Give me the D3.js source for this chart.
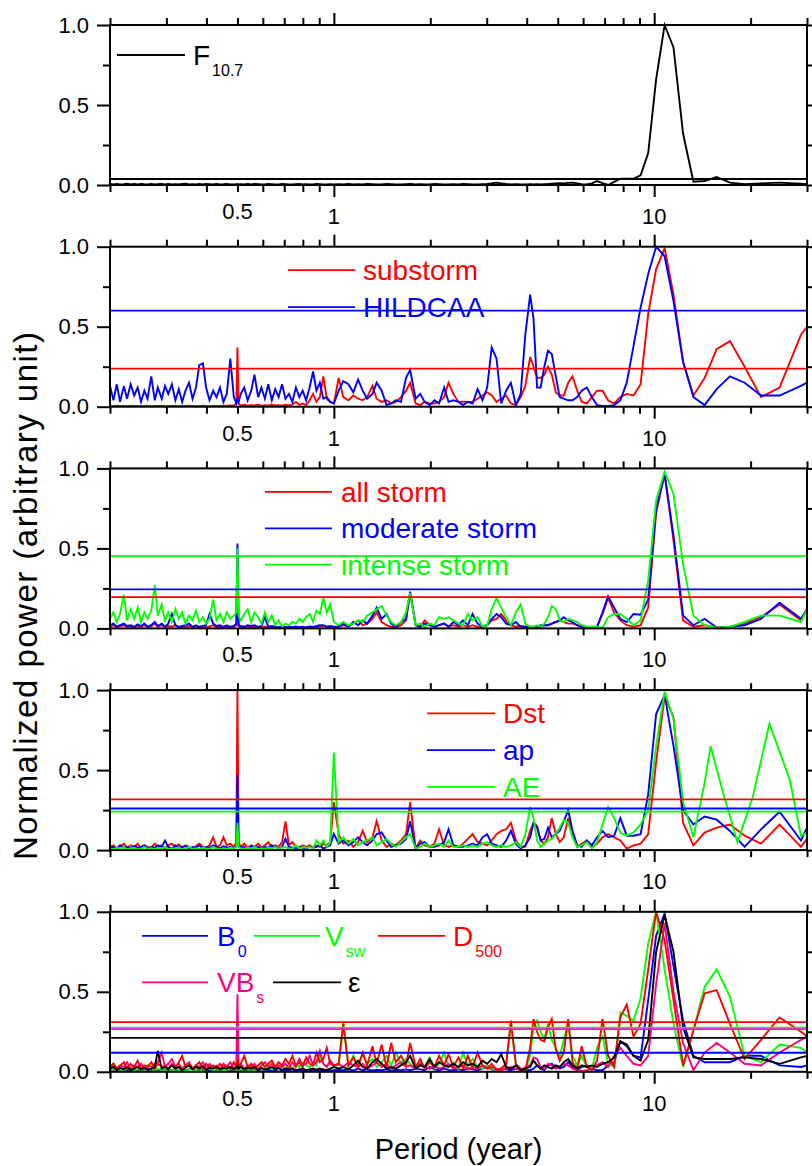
<!DOCTYPE html>
<html>
<head>
  <title>Normalized power spectra</title>
  <meta charset="utf-8">
  <script src="https://d3js.org/d3.v7.min.js"></script>
  <style>
    body { margin: 0; background: #fff; }
    svg text { font-family: "Liberation Sans", Arial, Helvetica, sans-serif; }
  </style>
</head>
<body>
<svg id="chart" width="812" height="1166"></svg>

<script>
// shared period grid (year), dense part first, then the coarse long-period part
var periods = [
  0.200,0.205,0.210,0.215,0.221,0.226,0.232,0.238,0.244,0.250,0.256,0.262,0.269,0.276,0.282,0.290,0.297,
  0.304,0.312,0.320,0.328,0.336,0.344,0.353,0.362,0.371,0.380,0.390,0.399,0.409,0.420,0.430,0.441,0.452,
  0.463,0.475,0.487,0.496,0.500,0.504,0.512,0.525,0.538,0.552,0.565,0.580,0.594,0.609,0.624,0.640,0.656,
  0.672,0.689,0.706,0.724,0.742,0.761,0.780,0.799,0.819,0.840,0.861,0.882,0.904,0.927,0.950,0.974,1.000,
  1.035,1.07,1.11,1.15,1.19,1.23,1.27,1.32,1.36,1.41,1.46,1.51,1.56,1.62,1.68,1.73,1.80,1.86,1.92,1.99,
  2.06,2.13,2.21,2.28,2.36,2.45,2.53,2.62,2.71,2.81,2.91,3.01,3.11,3.22,3.33,3.45,3.57,3.70,3.83,3.96,
  4.10,4.20,4.31,4.42,4.54,4.66,4.79,4.93,5.07,5.22,5.39,5.56,5.75,5.94,6.16,
  6.39,6.63,6.90,7.18,7.50,7.84,8.21,8.62,9.07,9.58,10.14,10.78,11.49,12.31,13.26,
  13.8,14.37,15.0,15.67,16.4,17.24,18.2,19.16,20.3,21.55,22.9,24.63,26.5,28.73,30.0
];

// panel 1
var f107 = [
  0.006,0.004,0.007,0.003,0.005,0.008,0.004,0.006,0.003,0.007,0.005,0.004,0.006,0.003,0.005,0.007,0.004,
  0.006,0.003,0.005,0.004,0.006,0.008,0.004,0.005,0.003,0.006,0.004,0.007,0.005,0.003,0.006,0.004,0.005,
  0.007,0.003,0.004,0.005,0.006,0.004,0.005,0.003,0.006,0.004,0.007,0.005,0.003,0.004,0.006,0.005,0.003,
  0.004,0.006,0.005,0.004,0.003,0.005,0.006,0.004,0.005,0.003,0.004,0.006,0.005,0.004,0.003,0.005,0.004,
  0.005,0.004,0.006,0.003,0.005,0.004,0.006,0.005,0.003,0.004,0.006,0.005,0.004,0.003,0.005,0.006,0.004,0.005,0.003,0.004,
  0.006,0.005,0.004,0.003,0.005,0.004,0.006,0.005,0.004,0.003,0.005,0.007,0.010,0.015,0.010,0.006,0.004,0.005,0.003,0.004,
  0.005,0.004,0.005,0.004,0.005,0.006,0.008,0.010,0.012,0.010,0.013,0.015,0.010,0.005,0.003,
  0.010,0.025,0.012,0.000,0.020,0.040,0.040,0.040,0.060,0.200,0.660,1.000,0.860,0.320,0.020,
  null,0.025,null,0.050,null,0.015,null,0.005,null,0.010,null,0.015,null,0.008,0.005
];

// panel 2
var substorm = [
  0.005,0.003,0.006,0.004,0.005,0.003,0.006,0.004,0.005,0.003,0.004,0.006,0.003,0.005,0.004,0.006,0.003,
  0.005,0.004,0.006,0.003,0.005,0.004,0.006,0.005,0.003,0.004,0.006,0.005,0.003,0.006,0.004,0.005,0.007,
  0.005,0.008,0.006,0.020,0.370,0.020,0.008,0.012,0.006,0.010,0.008,0.012,0.005,0.010,0.007,0.012,0.008,
  0.010,0.006,0.012,0.008,0.015,0.030,0.012,0.020,0.010,0.040,0.080,0.030,0.060,0.190,0.050,0.030,0.020,
  0.18,0.06,0.04,0.07,0.05,0.04,0.06,0.13,0.05,0.03,0.04,0.02,0.03,0.06,0.10,0.15,0.02,0.01,0.03,0.02,
  0.02,0.03,0.06,0.15,0.08,0.03,0.03,0.03,0.03,0.05,0.07,0.09,0.07,0.03,0.05,0.07,0.02,0.01,0.06,0.13,
  0.31,0.25,0.18,0.18,0.20,0.25,0.20,0.09,0.07,0.07,0.15,0.19,0.10,0.03,0.02,
  0.06,0.10,0.10,0.04,0.02,0.06,0.08,0.07,0.14,0.58,0.86,0.99,0.70,0.28,0.07,
  null,0.18,null,0.36,null,0.41,null,0.25,null,0.06,null,0.12,null,0.45,0.50
];
var hildcaa = [
  0.13,0.04,0.14,0.03,0.13,0.05,0.14,0.07,0.12,0.03,0.10,0.05,0.19,0.04,0.12,0.05,0.13,
  0.08,0.14,0.04,0.11,0.03,0.10,0.15,0.05,0.12,0.26,0.27,0.12,0.04,0.10,0.06,0.12,0.03,
  0.08,0.30,0.06,0.02,0.05,0.03,0.08,0.12,0.04,0.10,0.20,0.06,0.12,0.05,0.14,0.04,0.11,
  0.06,0.14,0.05,0.08,0.03,0.12,0.06,0.10,0.04,0.12,0.22,0.10,0.15,0.05,0.06,0.03,0.02,
  0.10,0.16,0.14,0.09,0.17,0.10,0.05,0.08,0.15,0.10,0.01,0.02,0.04,0.03,0.18,0.23,0.05,0.08,0.03,0.01,
  0.04,0.02,0.12,0.03,0.04,0.03,0.01,0.03,0.02,0.11,0.04,0.12,0.37,0.30,0.02,0.10,0.15,0.01,0.08,0.45,
  0.70,0.55,0.12,0.12,0.25,0.35,0.33,0.19,0.06,0.05,0.04,0.04,0.06,0.10,0.12,
  0.06,0.01,0.005,0.005,0.01,0.04,0.15,0.38,0.62,0.83,1.00,0.94,0.66,0.28,0.06,
  null,0.01,null,0.11,null,0.19,null,0.15,null,0.07,null,0.07,null,0.13,0.15
];

// panel 3
var allStorm = [
  0.010,0.020,0.008,0.015,0.020,0.010,0.012,0.006,0.015,0.010,0.020,0.008,0.012,0.030,0.010,0.020,0.008,
  0.015,0.010,0.020,0.006,0.012,0.010,0.015,0.008,0.012,0.005,0.010,0.006,0.012,0.020,0.008,0.010,0.006,
  0.012,0.008,0.010,0.020,0.450,0.015,0.010,0.006,0.012,0.008,0.010,0.005,0.008,0.012,0.006,0.008,0.005,
  0.006,0.004,0.008,0.005,0.007,0.004,0.006,0.008,0.005,0.010,0.006,0.008,0.012,0.015,0.010,0.008,0.006,
  0.01,0.02,0.015,0.03,0.05,0.02,0.03,0.06,0.10,0.04,0.02,0.01,0.005,0.02,0.05,0.22,0.02,0.01,0.05,0.02,
  0.01,0.02,0.03,0.01,0.02,0.01,0.02,0.01,0.02,0.01,0.005,0.02,0.05,0.06,0.09,0.05,0.02,0.01,0.015,0.01,
  0.005,0.005,0.01,0.01,0.02,0.02,0.03,0.04,0.05,0.04,0.03,0.03,0.02,0.01,0.005,
  0.005,0.01,0.09,0.19,0.10,0.05,0.02,0.01,0.02,0.13,0.72,0.97,0.55,0.05,0.01,
  null,0.02,null,0.005,null,0.01,null,0.03,null,0.07,null,0.15,null,0.05,0.12
];
var moderateStorm = [
  0.020,0.030,0.010,0.020,0.030,0.015,0.020,0.010,0.025,0.015,0.030,0.010,0.020,0.040,0.015,0.030,0.010,
  0.030,0.090,0.020,0.010,0.015,0.020,0.030,0.010,0.020,0.010,0.015,0.020,0.090,0.030,0.015,0.020,0.010,
  0.020,0.010,0.015,0.030,0.530,0.020,0.015,0.010,0.020,0.015,0.020,0.010,0.015,0.070,0.010,0.015,0.010,
  0.008,0.010,0.006,0.010,0.008,0.012,0.008,0.010,0.006,0.012,0.010,0.015,0.020,0.020,0.010,0.015,0.010,
  0.01,0.03,0.01,0.04,0.02,0.05,0.03,0.08,0.13,0.06,0.09,0.03,0.01,0.04,0.06,0.23,0.02,0.01,0.03,0.02,
  0.01,0.02,0.03,0.01,0.04,0.02,0.05,0.02,0.09,0.03,0.01,0.02,0.06,0.09,0.07,0.03,0.02,0.04,0.01,0.01,
  0.01,0.01,0.01,0.02,0.02,0.02,0.03,0.04,0.05,0.07,0.05,0.04,0.02,0.01,0.005,
  0.005,0.01,0.10,0.20,0.13,0.06,0.04,0.09,0.085,0.18,0.75,0.96,0.58,0.08,0.02,
  null,0.06,null,0.005,null,0.01,null,0.02,null,0.06,null,0.16,null,0.06,0.12
];
var intenseStorm = [
  0.06,0.10,0.04,0.09,0.21,0.05,0.12,0.06,0.13,0.04,0.10,0.06,0.11,0.27,0.08,0.15,0.05,
  0.10,0.04,0.12,0.06,0.10,0.03,0.08,0.05,0.11,0.04,0.07,0.03,0.06,0.18,0.05,0.09,0.04,
  0.10,0.06,0.08,0.10,0.50,0.08,0.05,0.09,0.12,0.04,0.10,0.07,0.03,0.10,0.04,0.08,0.02,
  0.05,0.01,0.03,0.02,0.04,0.03,0.06,0.04,0.07,0.09,0.04,0.11,0.09,0.19,0.10,0.15,0.04,
  0.02,0.04,0.02,0.03,0.05,0.04,0.08,0.10,0.12,0.14,0.08,0.04,0.02,0.04,0.10,0.22,0.02,0.03,0.01,0.03,
  0.02,0.07,0.06,0.07,0.05,0.03,0.02,0.09,0.05,0.07,0.01,0.02,0.12,0.19,0.13,0.07,0.02,0.10,0.15,0.03,
  0.01,0.01,0.02,0.01,0.03,0.07,0.14,0.12,0.05,0.04,0.06,0.05,0.04,0.02,0.01,
  0.01,0.01,0.005,0.07,0.09,0.09,0.06,0.02,0.05,0.30,0.80,0.98,0.84,0.40,0.08,
  null,0.02,null,0.005,null,0.01,null,0.04,null,0.08,null,0.08,null,0.04,0.12
];

// panel 4
var dst = [
  0.02,0.03,0.01,0.02,0.04,0.015,0.03,0.02,0.04,0.01,0.03,0.02,0.015,0.04,0.02,0.03,0.01,
  0.03,0.04,0.02,0.035,0.015,0.03,0.02,0.01,0.025,0.04,0.02,0.015,0.03,0.08,0.02,0.03,0.08,
  0.03,0.04,0.02,0.05,1.00,0.05,0.02,0.04,0.015,0.03,0.02,0.04,0.015,0.03,0.05,0.02,0.03,
  0.02,0.05,0.18,0.03,0.05,0.02,0.015,0.03,0.02,0.03,0.015,0.03,0.02,0.04,0.03,0.05,0.30,
  0.10,0.04,0.06,0.02,0.05,0.12,0.05,0.08,0.18,0.06,0.02,0.04,0.03,0.06,0.10,0.30,0.01,0.06,0.03,0.02,
  0.04,0.13,0.03,0.02,0.03,0.02,0.04,0.07,0.10,0.05,0.04,0.03,0.06,0.10,0.12,0.13,0.17,0.06,0.02,0.02,
  0.12,0.17,0.15,0.06,0.04,0.08,0.20,0.10,0.05,0.08,0.20,0.10,0.02,0.04,0.06,
  0.02,0.04,0.08,0.10,0.08,0.06,0.01,0.03,0.04,0.10,0.55,0.96,0.83,0.17,0.03,
  null,0.11,null,0.14,null,0.16,null,0.09,null,0.04,null,0.16,null,0.02,0.07
];
var ap = [
  0.015,0.02,0.01,0.03,0.015,0.02,0.01,0.025,0.015,0.02,0.03,0.01,0.02,0.015,0.03,0.02,0.06,
  0.02,0.01,0.03,0.015,0.02,0.025,0.01,0.02,0.015,0.03,0.01,0.02,0.015,0.03,0.02,0.01,0.025,
  0.015,0.02,0.01,0.03,0.47,0.03,0.015,0.02,0.01,0.025,0.015,0.02,0.01,0.02,0.015,0.03,0.02,
  0.01,0.02,0.07,0.02,0.015,0.01,0.02,0.015,0.01,0.02,0.015,0.02,0.03,0.01,0.02,0.03,0.10,
  0.04,0.06,0.03,0.05,0.08,0.05,0.03,0.06,0.10,0.11,0.06,0.02,0.03,0.04,0.07,0.18,0.01,0.04,0.05,0.02,
  0.02,0.03,0.05,0.13,0.03,0.02,0.02,0.03,0.04,0.03,0.08,0.10,0.04,0.03,0.02,0.06,0.12,0.04,0.01,0.03,
  0.08,0.17,0.14,0.06,0.07,0.14,0.08,0.10,0.12,0.18,0.25,0.12,0.03,0.02,0.06,
  0.03,0.08,0.12,0.08,0.09,0.20,0.09,0.09,0.10,0.35,0.85,0.97,0.65,0.25,0.16,
  null,0.21,null,0.19,null,0.12,null,0.02,null,0.13,null,0.24,null,0.06,0.14
];
var ae = [
  0.01,0.005,0.015,0.01,0.02,0.005,0.01,0.015,0.005,0.01,0.02,0.008,0.012,0.005,0.015,0.01,0.02,
  0.005,0.012,0.008,0.015,0.005,0.01,0.02,0.008,0.012,0.005,0.015,0.01,0.008,0.02,0.01,0.005,0.012,
  0.008,0.015,0.01,0.02,0.17,0.02,0.01,0.008,0.015,0.01,0.02,0.005,0.012,0.008,0.015,0.01,0.02,
  0.01,0.015,0.02,0.01,0.008,0.03,0.01,0.02,0.015,0.02,0.01,0.06,0.03,0.06,0.02,0.05,0.61,
  0.05,0.08,0.04,0.07,0.03,0.05,0.06,0.08,0.03,0.05,0.07,0.04,0.02,0.05,0.08,0.10,0.01,0.02,0.04,0.02,
  0.03,0.04,0.02,0.06,0.02,0.02,0.03,0.02,0.03,0.02,0.04,0.05,0.03,0.02,0.03,0.02,0.03,0.05,0.02,0.10,
  0.27,0.20,0.06,0.02,0.04,0.06,0.07,0.10,0.14,0.19,0.17,0.08,0.02,0.03,0.05,
  0.01,0.05,0.16,0.27,0.20,0.11,0.09,0.11,0.16,0.25,0.65,0.99,0.82,0.30,0.08,
  null,0.42,0.65,null,0.36,null,0.05,null,0.33,null,0.79,null,0.44,0.09,0.11
];

// panel 5
var b0 = [
  0.010,0.015,0.008,0.012,0.020,0.010,0.015,0.008,0.012,0.010,0.015,0.020,0.008,0.012,0.010,0.015,0.008,
  0.012,0.010,0.015,0.008,0.012,0.010,0.015,0.020,0.008,0.012,0.010,0.015,0.008,0.012,0.010,0.015,0.008,
  0.012,0.010,0.015,0.010,0.020,0.010,0.012,0.008,0.015,0.010,0.012,0.008,0.015,0.010,0.012,0.008,0.010,
  0.015,0.008,0.012,0.010,0.015,0.008,0.012,0.010,0.008,0.012,0.010,0.015,0.008,0.012,0.010,0.008,0.010,
  0.012,0.010,0.015,0.008,0.020,0.010,0.015,0.008,0.012,0.010,0.015,0.008,0.012,0.010,0.015,0.010,0.020,0.015,0.010,0.030,
  0.015,0.010,0.020,0.012,0.010,0.015,0.010,0.020,0.015,0.010,0.020,0.030,0.015,0.010,0.020,0.015,0.010,0.020,0.015,0.010,
  0.01,0.02,0.04,0.02,0.01,0.04,0.05,0.03,0.02,0.03,0.06,0.03,0.01,0.03,0.04,
  0.02,0.01,0.01,0.04,0.06,0.19,0.16,0.10,0.09,0.45,0.85,0.99,0.66,0.32,0.10,
  null,0.06,null,0.06,null,0.06,null,0.10,null,0.10,null,0.04,null,0.03,0.04
];
var vsw = [
  0.010,0.020,0.008,0.015,0.010,0.020,0.012,0.008,0.015,0.010,0.020,0.008,0.015,0.010,0.020,0.012,0.010,
  0.015,0.008,0.020,0.010,0.015,0.008,0.012,0.020,0.010,0.015,0.008,0.012,0.020,0.010,0.015,0.008,0.012,
  0.010,0.015,0.020,0.010,0.030,0.010,0.015,0.010,0.020,0.012,0.010,0.015,0.020,0.010,0.030,0.015,0.020,
  0.010,0.030,0.020,0.040,0.020,0.050,0.030,0.060,0.040,0.030,0.050,0.040,0.100,0.050,0.030,0.060,0.040,
  0.04,0.31,0.03,0.10,0.04,0.11,0.05,0.08,0.03,0.06,0.10,0.04,0.12,0.05,0.08,0.05,0.02,0.06,0.03,0.09,
  0.02,0.05,0.12,0.03,0.06,0.02,0.12,0.04,0.08,0.03,0.02,0.04,0.02,0.01,0.02,0.03,0.30,0.04,0.02,0.01,
  0.10,0.28,0.32,0.25,0.20,0.30,0.20,0.15,0.09,0.20,0.30,0.10,0.04,0.10,0.03,
  0.02,0.15,0.22,0.05,0.03,0.37,0.35,0.32,0.46,0.80,1.00,0.64,0.30,0.03,0.26,
  null,0.53,null,0.64,null,0.47,null,0.10,null,0.06,null,0.17,null,0.15,0.12
];
var d500 = [
  0.03,0.05,0.02,0.04,0.06,0.02,0.05,0.03,0.07,0.02,0.04,0.03,0.06,0.02,0.05,0.03,0.04,
  0.02,0.05,0.03,0.06,0.10,0.03,0.05,0.02,0.04,0.06,0.02,0.05,0.03,0.04,0.02,0.05,0.03,
  0.04,0.02,0.06,0.03,0.08,0.02,0.05,0.10,0.03,0.05,0.02,0.04,0.06,0.03,0.05,0.07,0.03,
  0.06,0.04,0.08,0.05,0.10,0.04,0.06,0.03,0.09,0.05,0.04,0.12,0.06,0.08,0.15,0.05,0.04,
  0.05,0.30,0.04,0.09,0.03,0.12,0.04,0.16,0.05,0.17,0.03,0.18,0.06,0.10,0.04,0.18,0.03,0.08,0.02,0.06,
  0.03,0.10,0.04,0.11,0.03,0.09,0.02,0.10,0.03,0.12,0.04,0.02,0.05,0.01,0.02,0.05,0.32,0.05,0.02,0.01,
  0.15,0.33,0.25,0.20,0.19,0.28,0.33,0.14,0.07,0.12,0.33,0.06,0.02,0.16,0.03,
  0.01,0.07,0.33,0.10,0.03,0.34,0.42,0.22,0.30,0.64,1.00,0.82,0.45,0.04,0.26,
  null,0.49,null,0.51,null,0.30,null,0.08,null,0.20,null,0.34,null,0.25,0.22
];
var vbs = [
  0.03,0.05,0.02,0.04,0.03,0.06,0.02,0.04,0.03,0.05,0.02,0.04,0.03,0.05,0.06,0.12,0.03,
  0.05,0.08,0.03,0.05,0.02,0.04,0.06,0.02,0.04,0.03,0.06,0.02,0.05,0.03,0.04,0.02,0.05,
  0.03,0.06,0.02,0.04,0.485,0.03,0.05,0.02,0.04,0.03,0.05,0.02,0.04,0.06,0.03,0.05,0.02,
  0.04,0.03,0.05,0.02,0.06,0.03,0.08,0.04,0.05,0.10,0.04,0.06,0.13,0.05,0.03,0.07,0.04,
  0.05,0.03,0.06,0.04,0.03,0.05,0.02,0.04,0.06,0.03,0.05,0.02,0.04,0.06,0.03,0.04,0.02,0.05,0.03,0.02,
  0.04,0.02,0.03,0.05,0.02,0.03,0.04,0.02,0.03,0.02,0.04,0.02,0.03,0.02,0.01,0.02,0.03,0.02,0.01,0.03,
  0.04,0.09,0.08,0.03,0.02,0.05,0.04,0.02,0.03,0.05,0.04,0.02,0.01,0.005,0.01,
  0.02,0.04,0.06,0.03,0.10,0.15,0.10,0.05,0.04,0.10,0.55,0.93,0.50,0.18,0.01,
  null,0.12,null,0.18,null,0.12,null,0.05,null,0.04,null,0.12,null,0.20,0.22
];
var epsilon = [
  0.02,0.03,0.01,0.025,0.015,0.03,0.01,0.02,0.03,0.015,0.025,0.01,0.02,0.03,0.13,0.02,0.03,
  0.015,0.04,0.02,0.03,0.01,0.025,0.04,0.015,0.03,0.02,0.035,0.01,0.025,0.02,0.03,0.015,0.025,
  0.02,0.03,0.015,0.025,0.04,0.02,0.03,0.015,0.025,0.02,0.03,0.01,0.025,0.015,0.02,0.03,0.015,
  0.025,0.01,0.02,0.015,0.02,0.01,0.015,0.02,0.01,0.015,0.02,0.01,0.02,0.015,0.01,0.02,0.03,
  0.02,0.03,0.015,0.04,0.07,0.03,0.02,0.06,0.08,0.05,0.02,0.03,0.02,0.04,0.06,0.10,0.02,0.04,0.03,0.08,
  0.03,0.06,0.04,0.03,0.05,0.03,0.06,0.04,0.05,0.03,0.07,0.05,0.08,0.06,0.11,0.03,0.02,0.04,0.01,0.02,
  0.03,0.07,0.04,0.02,0.04,0.03,0.02,0.04,0.03,0.06,0.08,0.04,0.02,0.04,0.03,
  0.04,0.03,0.05,0.06,0.09,0.19,0.17,0.10,0.07,0.20,0.75,0.98,0.75,0.28,0.09,
  null,0.08,null,0.08,null,0.08,null,0.09,null,0.08,null,0.05,null,0.09,0.10
];

// significance levels (horizontal lines)
var levelsF107 = [0.0375];
var levelsSubstorm = [0.2375, 0.6];
var levelsStorm = [0.196, 0.244, 0.452];
var levelsIndex = [0.317, 0.26, 0.24];
var levelsSolarWind = [0.119, 0.276, 0.31, 0.267, 0.212];   // B0, Vsw, D500, VBs, eps

var xMinorTicks = [0.2,0.3,0.4,0.5,0.6,0.7,0.8,0.9,2,3,4,5,6,7,8,9,20,30];
var xMajorTicks = [1, 10];
var xTickLabels = [0.5, 1, 10];
var yMajorTicks = [0, 0.5, 1];
var yMinorTicks = [0.25, 0.75];

var RED = "#ff0000", BLUE = "#0000ff", GREEN = "#00ff00", BLACK = "#000000", PINK = "#ff0080", MAGENTA = "#ff00ff";

var panels = [
  { series: [{v: f107, c: BLACK, name: "F", sub: "10.7"}],
    levels: levelsF107, levelColors: [BLACK] },
  { series: [{v: substorm, c: RED, name: "substorm"}, {v: hildcaa, c: BLUE, name: "HILDCAA"}],
    levels: levelsSubstorm, levelColors: [RED, BLUE] },
  { series: [{v: allStorm, c: RED, name: "all storm"}, {v: moderateStorm, c: BLUE, name: "moderate storm"},
             {v: intenseStorm, c: GREEN, name: "intense storm"}],
    levels: levelsStorm, levelColors: [RED, BLUE, GREEN] },
  { series: [{v: dst, c: RED, name: "Dst"}, {v: ap, c: BLUE, name: "ap"}, {v: ae, c: GREEN, name: "AE"}],
    levels: levelsIndex, levelColors: [RED, BLUE, GREEN] },
  { series: [{v: b0, c: BLUE, name: "B", sub: "0"}, {v: vsw, c: GREEN, name: "V", sub: "sw"},
             {v: vbs, c: PINK, name: "VB", sub: "s"}, {v: d500, c: RED, name: "D", sub: "500"},
             {v: epsilon, c: BLACK, name: "\u03b5"}],
    levels: levelsSolarWind, levelColors: [BLUE, GREEN, RED, MAGENTA, BLACK] }
];

var left = 110, right = 807, top0 = 25, panelH = 160, panelStep = 221.7;
var svg = d3.select("#chart");
var x = d3.scaleLog().domain([0.2, 30]).range([left, right]);

// legend placement per panel: line start/end, text x, line y offset from panel top
var legendLayout = [
  [{x0: 117, x1: 185, tx: 193, dy: 30}],
  [{x0: 288, x1: 355, tx: 363, dy: 23.4}, {x0: 288, x1: 355, tx: 363, dy: 60.5}],
  [{x0: 265, x1: 332, tx: 341, dy: 23.4}, {x0: 265, x1: 332, tx: 341, dy: 60}, {x0: 265, x1: 332, tx: 341, dy: 96.3}],
  [{x0: 427, x1: 495, tx: 503, dy: 23.3}, {x0: 427, x1: 495, tx: 503, dy: 60}, {x0: 427, x1: 495, tx: 503, dy: 96.7}],
  [{x0: 142, x1: 208, tx: 217, dy: 24}, {x0: 254, x1: 320, tx: 325, dy: 24},
   {x0: 142, x1: 208, tx: 217, dy: 70.6}, {x0: 378, x1: 445, tx: 453, dy: 24},
   {x0: 273, x1: 341, tx: 348, dy: 70.6}]
];

panels.forEach(function(p, i) {
  var top = top0 + i * panelStep, bottom = top + panelH;
  var y = d3.scaleLinear().domain([0, 1]).range([bottom, top]);
  var g = svg.append("g");

  var line = d3.line().x(function(d) { return x(d[0]); }).y(function(d) { return y(d[1]); });

  p.series.forEach(function(s) {
    if (s.v.length !== periods.length) console.error(s.name, s.v.length, periods.length);
    var pts = periods.map(function(t, j) { return [t, s.v[j]]; })
      .filter(function(d) { return d[1] != null; });
    g.append("path").datum(pts)
      .attr("d", line)
      .attr("fill", "none")
      .attr("stroke", s.c)
      .attr("stroke-width", 1.9);
  });

  p.levels.forEach(function(lv, k) {
    g.append("line")
      .attr("x1", left).attr("x2", right)
      .attr("y1", y(lv)).attr("y2", y(lv))
      .attr("stroke", p.levelColors[k])
      .attr("stroke-width", 1.8);
  });

  // legend
  p.series.forEach(function(s, k) {
    var L = legendLayout[i][k];
    var ly = top + L.dy;
    g.append("line").attr("x1", L.x0).attr("x2", L.x1).attr("y1", ly).attr("y2", ly)
      .attr("stroke", s.c).attr("stroke-width", 1.8);
    var t = g.append("text").attr("x", L.tx).attr("y", ly + 10)
      .attr("fill", s.c).attr("font-size", 28);
    t.append("tspan").text(s.name);
    if (s.sub) t.append("tspan").attr("dx", 2).attr("dy", 11).attr("font-size", 16).text(s.sub);
  });

  // frame
  g.append("rect").attr("x", left).attr("y", top).attr("width", right - left).attr("height", panelH)
    .attr("fill", "none").attr("stroke", "#000").attr("stroke-width", 2);

  function tidy(a) {
    a.select(".domain").remove();
    a.selectAll("line").attr("stroke-width", 2);
  }

  g.append("g").attr("transform", "translate(0," + bottom + ")")
    .call(d3.axisBottom(x).tickValues(xMinorTicks).tickSize(7).tickFormat("")).call(tidy);
  g.append("g").attr("transform", "translate(0," + bottom + ")")
    .call(d3.axisBottom(x).tickValues(xMajorTicks).tickSize(12).tickFormat("")).call(tidy);
  g.append("g").attr("transform", "translate(0," + top + ")")
    .call(d3.axisTop(x).tickValues(xMinorTicks).tickSize(7).tickFormat("")).call(tidy);
  g.append("g").attr("transform", "translate(0," + top + ")")
    .call(d3.axisTop(x).tickValues(xMajorTicks).tickSize(12).tickFormat("")).call(tidy);

  var yl = g.append("g").attr("transform", "translate(" + left + ",0)")
    .call(d3.axisLeft(y).tickValues(yMajorTicks).tickSize(13).tickPadding(8).tickFormat(d3.format(".1f")))
    .call(tidy);
  yl.selectAll("text").attr("font-size", 22).attr("fill", "#000")
    .attr("font-family", '"Liberation Sans", Arial, sans-serif');
  g.append("g").attr("transform", "translate(" + left + ",0)")
    .call(d3.axisLeft(y).tickValues(yMinorTicks).tickSize(7).tickFormat("")).call(tidy);
  g.append("g").attr("transform", "translate(" + right + ",0)")
    .call(d3.axisRight(y).tickValues(yMajorTicks).tickSize(12).tickFormat("")).call(tidy);
  g.append("g").attr("transform", "translate(" + right + ",0)")
    .call(d3.axisRight(y).tickValues(yMinorTicks).tickSize(7).tickFormat("")).call(tidy);

  g.selectAll(".xlab").data(xTickLabels).enter().append("text")
    .attr("class", "xlab")
    .attr("x", function(d) { return x(d); })
    .attr("y", function(d) { return bottom + (d === 0.5 ? 34 : 39); })
    .attr("text-anchor", "middle")
    .attr("font-size", 22)
    .text(function(d) { return d; });
});

svg.append("text")
  .attr("x", (left + right) / 2).attr("y", 1159)
  .attr("text-anchor", "middle").attr("font-size", 29)
  .text("Period (year)");

svg.append("text")
  .attr("transform", "translate(37,596) rotate(-90)")
  .attr("text-anchor", "middle").attr("font-size", 33)
  .attr("textLength", 528).attr("lengthAdjust", "spacing")
  .text("Normalized power (arbitrary unit)");
</script>
</body>
</html>
